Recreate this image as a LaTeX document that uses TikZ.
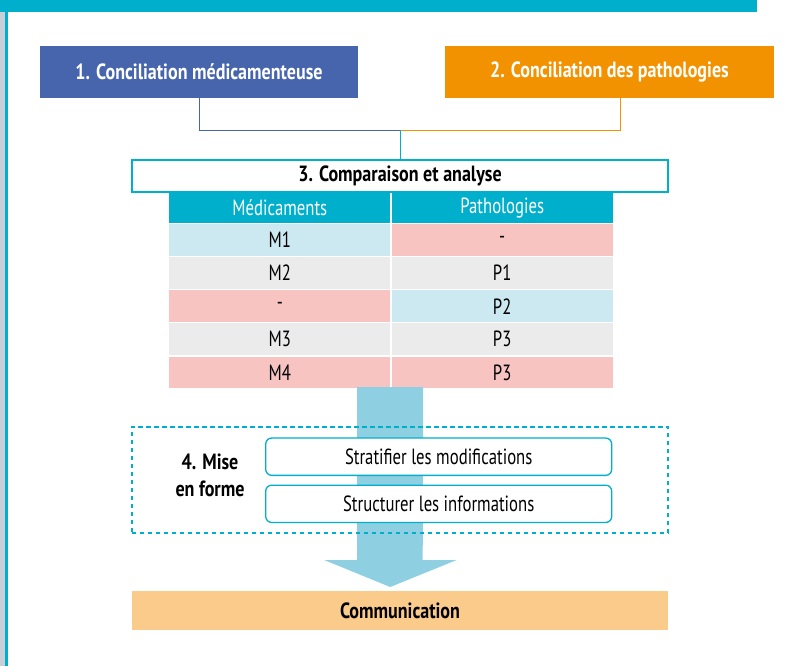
\documentclass[tikz,border=0pt]{standalone}
\usepackage{fontspec}
\setmainfont{PT Sans}[FakeStretch=0.76, BoldFeatures={FakeStretch=0.82}]
\usetikzlibrary{positioning}

\definecolor{topcyan}{HTML}{00AFCB}
\definecolor{sidegrey}{HTML}{C9CFD6}
\definecolor{medblue}{HTML}{4665AD}
\definecolor{pathorange}{HTML}{F39200}
\definecolor{ltblue}{HTML}{CCE8F0}
\definecolor{pinkcell}{HTML}{F8C4C2}
\definecolor{greycell}{HTML}{EBEBEB}
\definecolor{flowblue}{HTML}{8ED0E2}
\definecolor{peach}{HTML}{FBCB8C}

\newcommand{\diagfont}{\fontsize{22}{27}\selectfont}

\begin{document}
\begin{tikzpicture}[x=1pt, y=-1pt,
                    font=\diagfont,
                    node distance=1pt,
                    stepbox/.style={rectangle, text=white, font=\diagfont\bfseries, minimum width=318pt, minimum height=52pt},
                    cell/.style={rectangle, inner sep=0pt, minimum width=221pt, minimum height=31.7pt},
                    head/.style={cell, fill=topcyan, text=white, minimum height=29.5pt},
                    task/.style={rectangle, draw=topcyan, line width=1.3pt, fill=white, rounded corners=6pt, minimum width=346pt, minimum height=37.3pt},
                    line/.style={draw, line width=1pt}
                ]
                    \useasboundingbox (0,0) rectangle (799,666);

                    % Frame
                    \fill[topcyan] (0,0) rectangle (757,12);
                    \fill[sidegrey] (0,12) rectangle (5,666);
                    \fill[topcyan] (5,12) rectangle (7.5,666);

                    % Place nodes
                    \node [stepbox, fill=medblue] (concmed) at (199,72) {1. Conciliation médicamenteuse};
                    \node [stepbox, fill=pathorange, minimum width=329pt] (concpat) at (609.5,72) {2. Conciliation des pathologies};
                    \node [rectangle, draw=topcyan, line width=1.3pt, fill=white, font=\diagfont\bfseries, minimum width=536pt, minimum height=32pt] (comp) at (400,176) {3. Comparaison et analyse};

                    % Table
                    \node [head] (hmed) at (279.8,208) {Médicaments};
                    \node [head, right=1pt of hmed] (hpath) {Pathologies};
                    \node [cell, fill=ltblue, below=of hmed] (med1) {M1};
                    \node [cell, fill=pinkcell, below=of hpath] (path1) {-};
                    \node [cell, fill=greycell, below=of med1] (med2) {M2};
                    \node [cell, fill=greycell, below=of path1] (path2) {P1};
                    \node [cell, fill=pinkcell, below=of med2] (med3) {-};
                    \node [cell, fill=ltblue, below=of path2] (path3) {P2};
                    \node [cell, fill=greycell, below=of med3] (med4) {M3};
                    \node [cell, fill=greycell, below=of path3] (path4) {P3};
                    \node [cell, fill=pinkcell, below=of med4] (med5) {M4};
                    \node [cell, fill=pinkcell, below=of path4] (path5) {P3};

                    \node [rectangle, fill=peach, font=\diagfont\bfseries, minimum width=536.3pt, minimum height=39.3pt] (com) at (400,610.7) {Communication};

                    % Big arrow
                    \coordinate (flowtop) at (390.2,387);
                    \coordinate (flowtip) at (390.2,587);
                    \fill[flowblue] ([xshift=-33pt]flowtop) -- ++(0,173) -- ++(-33,0) -- (flowtip) -- ++(66.5,-27) -- ++(-34,0) -- ([xshift=33pt]flowtop) -- cycle;

                    % Step 4
                    \node [rectangle, draw=topcyan, line width=1.4pt, dash pattern=on 4.5pt off 3.5pt, minimum width=536.3pt, minimum height=106.3pt] (miseforme) at (400,480) {};
                    \node [task] (strat) at (438.7,456.7) {Stratifier les modifications};
                    \node [task, below=8.5pt of strat] (struct) {Structurer les informations};
                    \node [font=\diagfont\bfseries, align=center] (miselabel) at (210,475) {4. Mise\\en forme};

                    % Draw edges
                    \coordinate (join) at (400,130);
                    \path [line, draw=medblue] (concmed.south) |- (join);
                    \path [line, draw=pathorange] ([xshift=10.5pt]concpat.south) |- (join);
                    \path [line, draw=topcyan] (join) -- (comp.north);
            \end{tikzpicture}
\end{document}
